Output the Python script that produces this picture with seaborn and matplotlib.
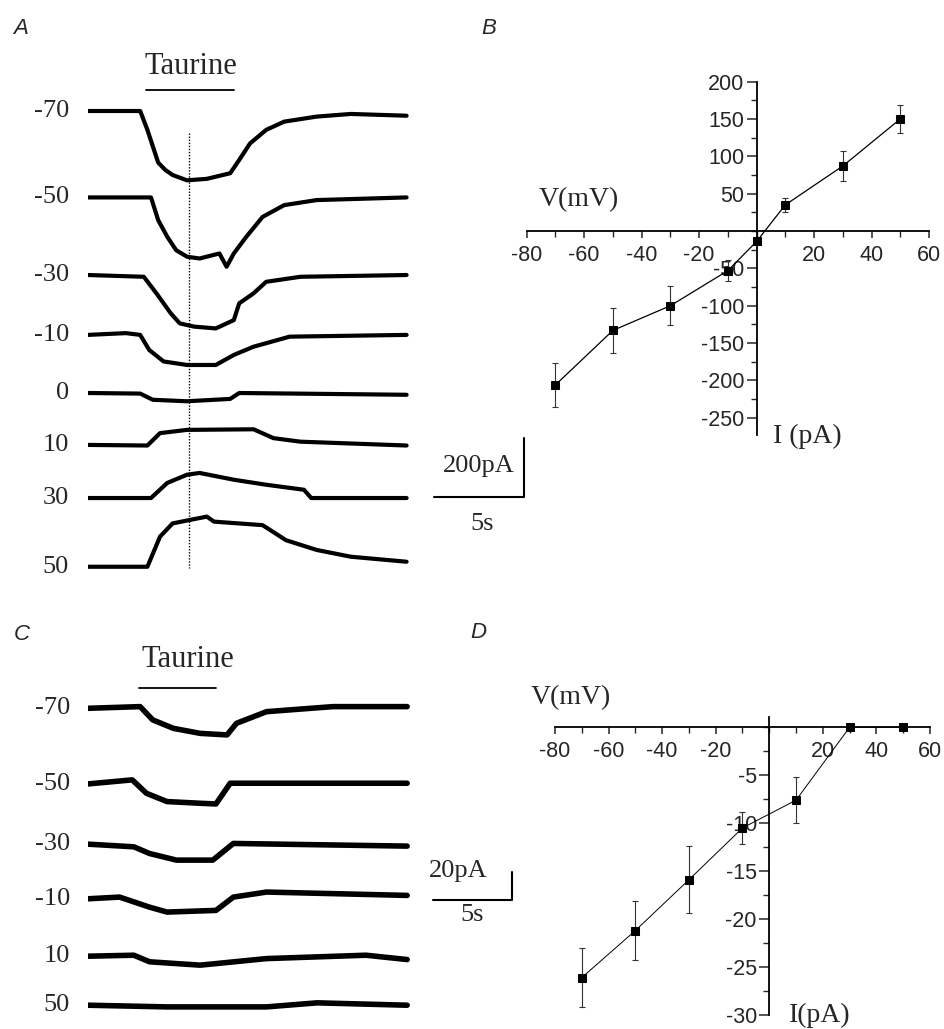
import numpy as np
import pandas as pd
import matplotlib
matplotlib.use("Agg")
import matplotlib.pyplot as plt
import seaborn as sns
from matplotlib.ticker import FixedLocator, MultipleLocator

sns.set_theme(style="white")
plt.rcParams['font.family'] = ['Liberation Serif', 'DejaVu Serif']
plt.rcParams['axes.unicode_minus'] = False

# ---- panel A: whole-cell currents (time in s, current in pA, relative to baseline)
a_labels = ["-70", "-50", "-30", "-10", "0", "10", "30", "50"]
a_m70_t = [0, 2.9, 3.3, 3.7, 3.9, 4.3, 4.7, 5.5, 6.6, 7.9, 8.4, 9.0, 9.9, 10.9, 12.7, 14.6, 17.7]
a_m70_i = [0, 0, -64, -138, -175, -200, -217, -235, -230, -211, -166, -110, -64, -36, -19, -10, -16]
a_m50_t = [0, 3.5, 3.9, 4.4, 4.9, 5.5, 6.2, 7.3, 7.7, 8.1, 8.8, 9.7, 10.9, 12.7, 17.7]
a_m50_i = [0, 0, -77, -133, -179, -201, -207, -190, -235, -190, -133, -66, -26, -9, 0]
a_m30_t = [0, 3.1, 3.8, 4.6, 5.1, 5.9, 7.1, 8.1, 8.4, 9.2, 9.9, 11.8, 17.7]
a_m30_i = [0, -6, -62, -130, -164, -175, -181, -153, -96, -62, -23, -6, 0]
a_m10_t = [0, 2.1, 2.9, 3.4, 4.2, 5.5, 7.1, 8.1, 9.2, 11.2, 17.7]
a_m10_i = [0, 6, 0, -51, -90, -102, -102, -68, -40, -6, 0]
a_0_t = [0, 2.9, 3.6, 5.5, 7.9, 8.4, 17.7]
a_0_i = [0, -2, -23, -28, -20, 0, -6]
a_10_t = [0, 3.3, 4.0, 5.5, 9.2, 10.3, 11.8, 17.7]
a_10_i = [0, -2, 40, 51, 53, 23, 11, -2]
a_30_t = [0, 3.5, 4.4, 5.5, 6.2, 8.1, 9.9, 12.0, 12.4, 17.7]
a_30_i = [0, 0, 51, 79, 85, 62, 45, 28, 0, 0]
a_50_t = [0, 3.3, 4.0, 4.7, 6.6, 7.0, 9.7, 11.0, 12.7, 14.6, 17.7]
a_50_i = [0, 0, 102, 147, 170, 153, 141, 90, 57, 34, 17]
a_taurine = (3.2, 8.1)
a_marker_t = 5.6

# ---- panel C: smaller currents
c_labels = ["-70", "-50", "-30", "-10", "10", "50"]
c_m70_t = [0, 3.3, 4.1, 5.4, 7.1, 8.8, 9.4, 11.3, 15.5, 20.2]
c_m70_i = [0, 1.2, -8.3, -14.3, -17.9, -19.0, -10.7, -2.4, 1.2, 1.2]
c_m50_t = [0, 2.8, 3.7, 5.0, 7.1, 8.1, 9.0, 20.2]
c_m50_i = [0, 2.9, -6.7, -12.6, -13.8, -14.3, 0.5, 0.5]
c_m30_t = [0, 2.9, 3.9, 5.6, 7.9, 9.2, 20.2]
c_m30_i = [0, -1.9, -6.7, -11.4, -11.4, 0.5, -1.4]
c_m10_t = [0, 2.0, 3.9, 5.0, 8.1, 9.2, 11.3, 20.2]
c_m10_i = [0, 1.2, -6.0, -9.5, -8.3, 1.2, 4.8, 2.4]
c_10_t = [0, 2.9, 3.9, 7.1, 11.3, 17.6, 20.2]
c_10_i = [0, 0.7, -4.0, -6.4, -1.7, 0.7, -2.4]
c_50_t = [0, 5.0, 11.3, 14.5, 20.2]
c_50_i = [0, -1.2, -1.2, 1.7, 0]
c_taurine = (3.2, 8.1)

# ---- panel B: I-V relation
b_v = [-70, -50, -30, -10, 0, 10, 30, 50]
b_i = [-206, -133, -100, -53, -14, 35, 87, 150]
b_err = [29, 30, 26, 14, 5, 9, 20, 19]

# ---- panel D: I-V relation
d_v = [-70, -50, -30, -10, 10, 30, 50]
d_i = [-26.1, -21.2, -15.9, -10.5, -7.6, 0, 0]
d_err = [3.1, 3.1, 3.5, 1.7, 2.4, 0, 0]

W, H = 944, 1029
fig = plt.figure(figsize=(W / 100, H / 100), dpi=100)
fig.patch.set_facecolor("white")


def px_axes(left, top, right, bottom):
    return fig.add_axes([left / W, 1 - bottom / H, (right - left) / W, (bottom - top) / H])


def draw_trace(ax, t, i, offset, lw):
    df = pd.DataFrame({"t": t, "i": np.asarray(i, float) + offset})
    sns.lineplot(data=df, x="t", y="i", ax=ax, color="black", lw=lw,
                 estimator=None, sort=False, solid_capstyle="round",
                 solid_joinstyle="round")


# ================= panel A =================
axA = px_axes(88, 80, 530, 585)
sx, sy = 18.0, 3.39          # px per s, pA per px
axA.set_xlim(0, (530 - 88) / sx)
axA.set_ylim(-(585 - 111) * sy, (111 - 80) * sy)
axA.axis("off")
a_offsets = [0, -293, -556, -759, -956, -1132, -1312, -1545]
a_traces = [(a_m70_t, a_m70_i), (a_m50_t, a_m50_i), (a_m30_t, a_m30_i), (a_m10_t, a_m10_i),
            (a_0_t, a_0_i), (a_10_t, a_10_i), (a_30_t, a_30_i), (a_50_t, a_50_i)]
for (t, i), off, lab in zip(a_traces, a_offsets, a_labels):
    draw_trace(axA, t, i, off, 3.0)
    axA.text(-1.05, off, lab, ha="right", va="center", fontsize=19)
axA.plot(a_taurine, [71, 71], color="black", lw=1.3, clip_on=False)
axA.text(sum(a_taurine) / 2 + 0.05, 152, "Taurine", ha="center", va="center", fontsize=22)
axA.plot([a_marker_t, a_marker_t], [-75, -1549], color="black", lw=1.0, ls=(0, (1, 1.2)))
# scale bar
axA.plot([19.2, 24.2, 24.2], [-1309, -1309, -1109], color="black", lw=1.5)
axA.text(21.7, -1203, "200pA", ha="center", va="center", fontsize=19)
axA.text(21.9, -1400, "5s", ha="center", va="center", fontsize=19)

# ================= panel C =================
axC = px_axes(88, 650, 530, 1029)
sx, sy = 15.8, 0.714
axC.set_xlim(0, (530 - 88) / sx)
axC.set_ylim(-(1029 - 708.3) * sy, (708.3 - 650) * sy)
axC.axis("off")
c_offsets = [0, -54, -97, -136, -177, -212]
c_traces = [(c_m70_t, c_m70_i), (c_m50_t, c_m50_i), (c_m30_t, c_m30_i),
            (c_m10_t, c_m10_i), (c_10_t, c_10_i), (c_50_t, c_50_i)]
for (t, i), off, lab in zip(c_traces, c_offsets, c_labels):
    draw_trace(axC, t, i, off, 4.0)
    axC.text(-1.15, off, lab, ha="right", va="center", fontsize=19)
axC.plot(c_taurine, [14.8, 14.8], color="black", lw=1.3, clip_on=False)
axC.text(6.3, 34.5, "Taurine", ha="center", va="center", fontsize=22)
axC.plot([21.84, 26.84, 26.84], [-136.9, -136.9, -116.9], color="black", lw=1.5)
axC.text(23.4, -116.5, "20pA", ha="center", va="center", fontsize=19)
axC.text(24.3, -147.6, "5s", ha="center", va="center", fontsize=19)


# ================= I-V panels =================
def iv_axes(ax, xmajor, ymajor, yminor):
    sns.despine(ax=ax)
    ax.spines["left"].set_position(("data", 0))
    ax.spines["bottom"].set_position(("data", 0))
    for s in ("left", "bottom"):
        ax.spines[s].set_linewidth(1.3)
        ax.spines[s].set_color("black")
    ax.xaxis.set_major_locator(FixedLocator(xmajor))
    ax.xaxis.set_minor_locator(MultipleLocator(10))
    ax.yaxis.set_major_locator(FixedLocator(ymajor))
    ax.yaxis.set_minor_locator(MultipleLocator(yminor))
    ax.set_xticklabels([f"{v:g}" for v in xmajor])
    ax.set_yticklabels([f"{v:g}" for v in ymajor])
    ax.tick_params(axis="x", which="major", direction="out", length=5, width=1.1,
                   pad=5, labelsize=15.5, bottom=True)
    ax.tick_params(axis="x", which="minor", direction="out", length=4, width=1.0, bottom=True)
    ax.tick_params(axis="y", which="major", direction="out", length=7, width=1.1,
                   pad=2, labelsize=15.5, left=True)
    ax.tick_params(axis="y", which="minor", direction="out", length=4, width=1.0, left=True)
    for lab in ax.get_xticklabels() + ax.get_yticklabels():
        lab.set_family(["Liberation Sans", "DejaVu Sans"])
    ax.set_xlabel("")
    ax.set_ylabel("")
    ax.patch.set_alpha(0)


axB = px_axes(526.7, 81.6, 929, 435)
axB.errorbar(b_v, b_i, yerr=b_err, fmt="none", ecolor="#333333", elinewidth=0.8,
             capsize=2.5, capthick=0.8)
sns.lineplot(x=b_v, y=b_i, ax=axB, color="black", lw=0.9, marker="s",
             markersize=6, markeredgecolor="black", estimator=None, sort=False)
axB.set_xlim(-80, 60)
axB.set_ylim(-273, 200)
iv_axes(axB, [-80, -60, -40, -20, 20, 40, 60],
        [-250, -200, -150, -100, -50, 50, 100, 150, 200], 25)
axB.text(-61.8, 41.5, "V(mV)", ha="center", va="center", fontsize=20, clip_on=False)
axB.text(17.8, -275.5, "I (pA)", ha="center", va="center", fontsize=20, clip_on=False)

axD = px_axes(555, 716.7, 930, 1015)
axD.errorbar(d_v, d_i, yerr=d_err, fmt="none", ecolor="#333333", elinewidth=0.8,
             capsize=2.5, capthick=0.8)
sns.lineplot(x=d_v, y=d_i, ax=axD, color="black", lw=0.7, marker="s",
             markersize=5.5, markeredgecolor="black", estimator=None, sort=False)
axD.set_xlim(-80, 60)
axD.set_ylim(-30, 1.1)
iv_axes(axD, [-80, -60, -40, -20, 20, 40, 60], [-30, -25, -20, -15, -10, -5], 2.5)
axD.text(-74, 3.05, "V(mV)", ha="center", va="center", fontsize=20, clip_on=False)
axD.text(18.9, -30.05, "I(pA)", ha="center", va="center", fontsize=20, clip_on=False)

# panel letters
for lab, x, y in [("A", 21, 29), ("B", 489, 29), ("C", 22, 635), ("D", 478, 632)]:
    fig.text(x / W, 1 - y / H, lab, ha="center", va="center", fontsize=16,
             style="italic", family=["Liberation Sans", "DejaVu Sans"])

fig.savefig("out.png", dpi=100, facecolor="white")
